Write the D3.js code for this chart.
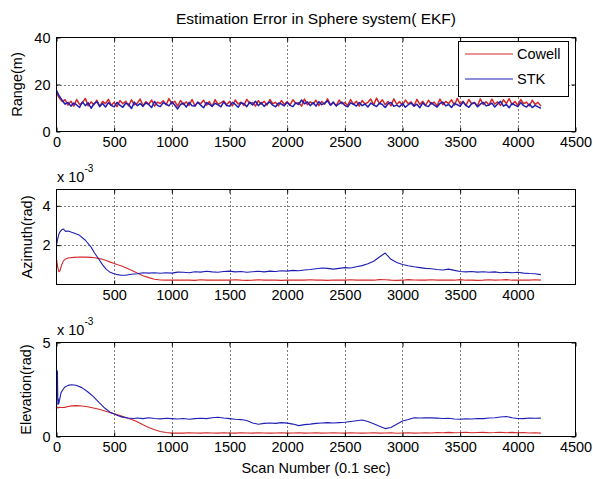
<!DOCTYPE html>
<html><head><meta charset="utf-8">
<script src="https://cdn.jsdelivr.net/npm/d3@7"></script>
<style>
html,body{margin:0;padding:0;background:#fff;}
text{font-family:"Liberation Sans",Arial,sans-serif;}
</style></head>
<body>
<svg id="chart" width="593" height="479"></svg>
<script>
// ---------- DATA ----------
const seriesNames = ["Cowell", "STK"];
const titleText = "Estimation Error in Sphere system( EKF)";
const xLabelText = "Scan Number (0.1 sec)";
const yLabels = ["Range(m)", "Azimuth(rad)", "Elevation(rad)"];

const rangeStep = 25; // samples shown every 25 scans
const rangeCowell = [
16.5,14.2,12.8,13.5,11.2,12.9,10.8,13.6,11.5,12.2,
14.1,10.9,12.6,11.4,13.3,10.7,12.8,11.9,13.7,11.1,
12.4,10.6,13.2,11.8,12.9,10.9,13.5,11.3,12.1,13.8,
11.0,12.7,11.6,13.4,10.8,12.5,11.9,13.1,11.3,14.0,
11.7,12.9,10.8,13.2,11.5,12.6,11.1,13.6,10.9,12.4,
11.8,13.3,11.2,12.7,10.7,13.5,11.6,12.2,13.0,11.4,
12.8,10.9,13.4,11.7,12.5,11.1,13.7,11.9,12.3,10.8,
13.1,11.6,12.9,11.2,13.6,11.8,12.4,10.9,13.2,11.5,
12.7,11.3,13.5,11.9,12.2,10.8,13.8,11.4,12.6,11.7,
13.3,11.0,12.8,11.6,13.9,11.2,12.5,10.9,13.4,11.8,
12.3,11.1,13.6,11.5,12.9,10.8,13.2,11.7,12.4,13.8,
11.3,14.2,11.9,13.5,11.4,12.8,10.9,13.9,11.6,12.7,
11.2,13.4,11.8,12.6,10.8,13.7,11.5,12.9,11.1,13.3,
11.7,12.5,10.9,13.8,11.4,12.8,11.9,13.5,11.2,14.1,
11.6,12.9,11.0,13.6,11.8,12.4,10.9,13.9,11.5,12.7,
11.3,13.8,11.7,12.6,11.1,13.5,11.9,14.0,11.4,12.8,
11.2,13.6,11.8,12.5,10.9,13.3,11.5,12.4,10.8];
const rangeSTK = [
17.5,15.0,13.2,11.6,12.4,10.8,12.1,11.3,10.2,12.6,
11.0,12.2,9.9,11.8,12.7,10.6,11.9,10.4,12.3,11.1,
10.5,12.4,11.2,10.3,12.0,11.6,9.8,12.5,11.0,11.9,
10.7,12.2,11.4,10.2,12.8,11.1,10.6,12.3,11.7,10.9,
12.6,11.3,9.6,11.5,12.1,10.4,12.4,11.0,10.8,12.5,
11.2,10.1,12.3,11.6,10.7,12.0,11.4,10.5,12.6,11.1,
10.8,12.4,11.5,10.3,12.2,11.8,10.6,12.5,11.3,12.9,
11.0,12.3,10.7,11.9,12.6,11.2,10.5,12.1,11.7,10.9,
12.4,11.1,10.6,12.2,11.5,13.4,11.8,12.6,11.0,12.3,
10.8,12.7,11.4,12.1,13.0,11.2,12.4,10.9,11.8,12.5,
11.1,10.5,12.2,11.6,10.8,12.3,11.0,11.7,10.4,12.1,
11.3,10.6,12.0,11.5,10.2,11.8,12.4,10.7,11.2,10.5,
11.9,10.3,11.4,12.1,10.8,11.6,10.1,12.2,11.0,10.6,
12.3,11.2,10.4,11.9,12.5,10.9,11.5,10.2,12.0,11.4,
10.7,12.6,11.1,10.3,11.8,12.2,10.5,11.6,12.4,10.9,
11.3,12.1,10.4,11.7,12.8,10.8,11.5,10.1,12.0,11.2,
10.6,12.3,11.0,10.4,11.7,10.2,11.1,10.5,9.9];

const tailScan = [700,750,800,850,900,950,1000,1050,1100,1150,1200,1250,1300,1350,1400,1450,1500,1550,1600,1650,
1700,1750,1800,1850,1900,1950,2000,2050,2100,2150,2200,2250,2300,2350,2400,2450,2500,2550,2600,2650,
2700,2750,2800,2850,2900,2950,3000,3050,3100,3150,3200,3250,3300,3350,3400,3450,3500,3550,3600,3650,
3700,3750,3800,3850,3900,3950,4000,4050,4100,4150,4200];

// Azimuth error (x 1e-3 rad)
const azScan = [0,10,20,30,45,60,80,100,150,200,250,300,330,360,400,430,460,500,530,560,600,650].concat(tailScan);
const azCowell = [1.3,0.9,0.65,0.7,1.0,1.2,1.3,1.35,1.38,1.4,1.39,1.38,1.36,1.33,1.28,1.22,1.15,1.07,1.0,0.95,0.85,0.72,
0.58,0.45,0.35,0.27,0.23,0.22,0.22,0.23,0.22,0.22,
0.21,0.24,0.22,0.22,0.23,0.22,0.22,0.24,0.22,0.21,
0.22,0.24,0.22,0.23,0.22,0.21,0.22,0.23,0.22,0.22,
0.24,0.22,0.22,0.21,0.23,0.22,0.22,0.24,0.22,0.22,
0.23,0.22,0.25,0.24,0.22,0.21,0.22,0.25,0.23,0.22,
0.22,0.24,0.22,0.22,0.23,0.22,0.25,0.22,0.22,0.21,
0.22,0.24,0.22,0.23,0.25,0.22,0.22,0.23,0.22,0.24,
0.22];
const azSTK = [2.0,2.3,2.55,2.68,2.78,2.82,2.7,2.72,2.62,2.5,2.25,1.9,1.6,1.35,1.0,0.78,0.64,0.55,0.5,0.47,0.47,0.52,
0.55,0.6,0.58,0.6,0.57,0.6,0.58,0.63,0.62,0.6,
0.65,0.63,0.67,0.64,0.62,0.66,0.68,0.64,0.66,0.62,
0.65,0.67,0.64,0.68,0.66,0.7,0.68,0.72,0.7,0.74,
0.76,0.8,0.84,0.82,0.78,0.82,0.86,0.84,0.9,0.96,
1.05,1.18,1.4,1.6,1.28,1.12,1.02,0.95,0.9,0.86,
0.82,0.8,0.76,0.74,0.78,0.72,0.66,0.64,0.66,0.63,
0.65,0.62,0.64,0.6,0.62,0.6,0.62,0.58,0.56,0.55,
0.5];

// Elevation error (x 1e-3 rad)
const elScan = [0,8,12,16,20,40,70,100,130,170,220,270,320,370,420,470,500,530,570,620,670].concat(tailScan);
const elCowell = [1.6,1.55,1.52,1.52,1.55,1.54,1.55,1.6,1.63,1.64,1.62,1.58,1.52,1.45,1.36,1.26,1.21,1.15,1.07,0.97,0.86,
0.78,0.62,0.48,0.36,0.27,0.21,0.18,0.19,0.18,0.2,
0.19,0.18,0.2,0.19,0.18,0.2,0.19,0.18,0.2,0.19,
0.18,0.2,0.19,0.18,0.19,0.2,0.18,0.19,0.2,0.18,
0.19,0.2,0.18,0.19,0.2,0.19,0.18,0.2,0.19,0.18,
0.19,0.2,0.18,0.19,0.2,0.17,0.19,0.2,0.18,0.19,
0.2,0.19,0.21,0.2,0.22,0.2,0.21,0.23,0.2,0.21,
0.22,0.2,0.21,0.23,0.2,0.22,0.2,0.21,0.19,0.2,
0.18];
const elSTK = [1.9,3.5,1.7,2.0,1.75,2.35,2.62,2.72,2.75,2.73,2.6,2.38,2.12,1.8,1.5,1.27,1.2,1.12,1.03,0.98,0.96,
0.98,0.95,1.0,0.96,0.94,0.97,0.95,0.93,0.96,0.92,
0.95,0.97,0.95,1.0,1.02,0.98,0.95,0.92,0.9,0.85,
0.72,0.65,0.7,0.72,0.7,0.74,0.71,0.66,0.58,0.63,
0.66,0.7,0.72,0.74,0.72,0.74,0.76,0.8,0.84,0.88,
0.8,0.68,0.55,0.42,0.48,0.65,0.82,0.9,1.0,0.98,
1.0,0.99,0.98,0.96,0.97,0.93,0.92,0.94,0.93,0.96,
0.95,0.98,1.0,1.04,1.06,1.0,0.96,0.95,0.98,0.97,
0.98];

const xTicksFull = [0,500,1000,1500,2000,2500,3000,3500,4000,4500];
const xTicksMid = [500,1000,1500,2000,2500,3000,3500,4000];
const yTicksRange = [0,20,40];
const yTicksAz = [2,4];
const yTicksEl = [0,5];
const colors = {Cowell:"#d42828", STK:"#1e1eb4"};

// ---------- LAYOUT ----------
const svg = d3.select("#chart");
const L = 56.5, R = 575.5;
const x = d3.scaleLinear().domain([0,4500]).range([L,R]);
const FONT = 14.5;

const panels = [
  {top:37.5, bottom:131.5, domain:[0,40], yticks:yTicksRange, xticks:xTicksFull, grid:[20], label:yLabels[0], lx:22,
   series:[{name:"Cowell", xs:rangeCowell.map((d,i)=>i*rangeStep), ys:rangeCowell},
           {name:"STK", xs:rangeSTK.map((d,i)=>i*rangeStep), ys:rangeSTK}]},
  {top:189.5, bottom:284.5, domain:[0,4.83], yticks:yTicksAz, xticks:xTicksMid, grid:[2,4], label:yLabels[1], lx:32, exp:true,
   series:[{name:"Cowell", xs:azScan, ys:azCowell},{name:"STK", xs:azScan, ys:azSTK}]},
  {top:342.5, bottom:436.5, domain:[0,5], yticks:yTicksEl, xticks:xTicksFull, grid:[], label:yLabels[2], lx:31, exp:true,
   series:[{name:"Cowell", xs:elScan, ys:elCowell},{name:"STK", xs:elScan, ys:elSTK}]}
];

panels.forEach((p, pi) => {
  const y = d3.scaleLinear().domain(p.domain).range([p.bottom, p.top]);
  const g = svg.append("g");
  g.append("rect").attr("x",L).attr("y",p.top).attr("width",R-L).attr("height",p.bottom-p.top).attr("fill","#fff");

  // grid
  const gx = [500,1000,1500,2000,2500,3000,3500,4000];
  g.selectAll(".vg").data(gx).enter().append("line")
    .attr("x1",d=>Math.round(x(d))+0.5).attr("x2",d=>Math.round(x(d))+0.5)
    .attr("y1",p.top).attr("y2",p.bottom)
    .attr("stroke","#000").attr("stroke-width",1).attr("stroke-dasharray","1,3");
  g.selectAll(".hg").data(p.grid).enter().append("line")
    .attr("x1",L).attr("x2",R)
    .attr("y1",d=>Math.round(y(d))+0.5).attr("y2",d=>Math.round(y(d))+0.5)
    .attr("stroke","#000").attr("stroke-width",1).attr("stroke-dasharray","1,3");

  // clip
  const cid = "clip"+pi;
  svg.append("clipPath").attr("id",cid).append("rect")
    .attr("x",L).attr("y",p.top).attr("width",R-L).attr("height",p.bottom-p.top);

  // lines
  p.series.forEach(s => {
    const pts = s.ys.map((v,i)=>[s.xs[i], v]);
    const line = d3.line().x(d=>x(d[0])).y(d=>y(d[1]));
    g.append("path").attr("d", line(pts)).attr("fill","none")
      .attr("stroke", colors[s.name]).attr("stroke-width", pi===0?1.5:1.1)
      .attr("stroke-linejoin","round")
      .attr("clip-path","url(#"+cid+")");
  });

  // box
  g.append("rect").attr("x",L).attr("y",p.top).attr("width",R-L).attr("height",p.bottom-p.top)
    .attr("fill","none").attr("stroke","#000").attr("stroke-width",1);

  // axes (inward ticks)
  const ax = g.append("g").attr("transform",`translate(0,${p.bottom})`)
    .call(d3.axisBottom(x).tickValues(p.xticks).tickSizeInner(-4).tickSizeOuter(0).tickPadding(5).tickFormat(d3.format("d")));
  const axT = g.append("g").attr("transform",`translate(0,${p.top})`)
    .call(d3.axisTop(x).tickValues(p.xticks).tickSizeInner(-4).tickSizeOuter(0).tickFormat(""));
  const ay = g.append("g").attr("transform",`translate(${L},0)`)
    .call(d3.axisLeft(y).tickValues(p.yticks).tickSizeInner(-4).tickSizeOuter(0).tickPadding(6).tickFormat(d3.format("d")));
  const ayR = g.append("g").attr("transform",`translate(${R},0)`)
    .call(d3.axisRight(y).tickValues(p.yticks).tickSizeInner(-4).tickSizeOuter(0).tickFormat(""));
  [ax,axT,ay,ayR].forEach(a=>{
    a.select(".domain").remove();
    a.selectAll("line").attr("stroke","#000");
    a.selectAll("text").attr("font-size",FONT).attr("fill","#000")
      .attr("font-family","'Liberation Sans',Arial,sans-serif");
  });

  // y label
  g.append("text").attr("transform",`translate(${p.lx},${(p.top+p.bottom)/2}) rotate(-90)`)
    .attr("text-anchor","middle").attr("font-size",FONT).attr("fill","#000").text(p.label);

  // exponent label
  if (p.exp) {
    const t = g.append("text").attr("x",57).attr("y",p.top-8).attr("font-size",FONT).attr("fill","#000");
    t.append("tspan").text("x 10");
    t.append("tspan").attr("dy",-10).attr("font-size",10).text("-3");
  }
});

// title
svg.append("text").attr("x",(L+R)/2).attr("y",24).attr("text-anchor","middle")
  .attr("font-size",15.5).attr("fill","#000").text(titleText);
// x label
svg.append("text").attr("x",(L+R)/2).attr("y",473).attr("text-anchor","middle")
  .attr("font-size",FONT).attr("fill","#000").text(xLabelText);

// legend
const lg = svg.append("g");
lg.append("rect").attr("x",458.5).attr("y",41.5).attr("width",110).attr("height",55)
  .attr("fill","#fff").attr("stroke","#000").attr("stroke-width",1);
seriesNames.forEach((n,i)=>{
  const ly = 54 + i*25;
  lg.append("line").attr("x1",465).attr("x2",513).attr("y1",ly).attr("y2",ly)
    .attr("stroke",colors[n]).attr("stroke-width",1.2);
  lg.append("text").attr("x",517).attr("y",ly+5).attr("font-size",FONT).attr("fill","#000").text(n);
});
</script>
</body></html>
